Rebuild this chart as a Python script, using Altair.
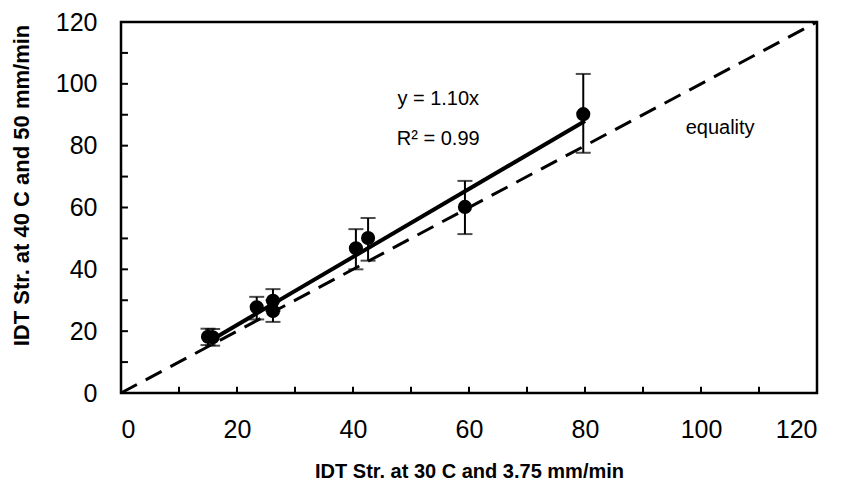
import altair as alt
import pandas as pd

# data
x_vals = [15.0, 15.8, 23.4, 26.2, 26.2, 40.5, 42.6, 59.3, 79.7]
y_vals = [18.2, 18.0, 27.7, 29.8, 26.5, 46.8, 50.1, 60.2, 90.2]
y_low = [15.5, 15.3, 23.8, 26.5, 23.0, 40.0, 42.8, 51.4, 77.7]
y_high = [20.8, 20.7, 31.1, 33.6, 30.0, 53.0, 56.6, 68.6, 103.2]

fit_x = [15.0, 80.0]
fit_y = [16.5, 88.0]
eq_x = [0, 120]
eq_y = [0, 120]

x_ticks = [0, 10, 20, 30, 40, 50, 60, 70, 80, 90, 100, 110, 120]
y_ticks = [0, 10, 20, 30, 40, 50, 60, 70, 80, 90, 100, 110, 120]

labels_text = ["y = 1.10x", "R\u00b2 = 0.99", "equality"]
labels_x = [54.7, 54.7, 103.3]
labels_y = [95.0, 82.3, 85.8]

FONT = "Liberation Sans"

pts = pd.DataFrame({"x": x_vals, "y": y_vals, "lo": y_low, "hi": y_high})
fit = pd.DataFrame({"x": fit_x, "y": fit_y})
eq = pd.DataFrame({"x": eq_x, "y": eq_y})
xt = pd.DataFrame({"v": x_ticks, "a": [0] * len(x_ticks), "b": [2.0] * len(x_ticks)})
yt = pd.DataFrame({"v": y_ticks, "a": [0] * len(y_ticks), "b": [1.2] * len(y_ticks)})
lab = pd.DataFrame({"t": labels_text, "x": labels_x, "y": labels_y})

xs = alt.Scale(domain=[0, 120], nice=False, zero=False)
ys = alt.Scale(domain=[0, 120], nice=False, zero=False)

x_axis = alt.Axis(
    title="IDT Str. at 30 C and 3.75 mm/min",
    values=[0, 20, 40, 60, 80, 100, 120],
    ticks=False, domain=False, grid=False,
    labelFontSize=25, labelFont=FONT, labelColor="black", labelPadding=24,
    titleFontSize=20, titleFont=FONT, titleFontWeight="bold", titleColor="black",
    titlePadding=19,
)
y_axis = alt.Axis(
    title="IDT Str. at 40 C and 50 mm/min",
    values=[0, 20, 40, 60, 80, 100, 120],
    ticks=False, domain=False, grid=False,
    labelFontSize=25, labelFont=FONT, labelColor="black", labelPadding=24,
    titleFontSize=22, titleFont=FONT, titleFontWeight="bold", titleColor="black",
    titlePadding=22, titleY=163,
)

eq_line = alt.Chart(eq).mark_line(color="black", strokeWidth=3, strokeDash=[18, 10]).encode(
    x=alt.X("x:Q", scale=xs, axis=x_axis),
    y=alt.Y("y:Q", scale=ys, axis=y_axis),
)
fit_line = alt.Chart(fit).mark_line(color="black", strokeWidth=4).encode(
    x=alt.X("x:Q", scale=xs), y=alt.Y("y:Q", scale=ys)
)
err = alt.Chart(pts).mark_rule(color="black", strokeWidth=2).encode(
    x=alt.X("x:Q", scale=xs), y=alt.Y("lo:Q", scale=ys), y2="hi:Q"
)
cap_lo = alt.Chart(pts).mark_tick(color="black", thickness=2, size=15, orient="horizontal").encode(
    x=alt.X("x:Q", scale=xs), y=alt.Y("lo:Q", scale=ys)
)
cap_hi = alt.Chart(pts).mark_tick(color="black", thickness=2, size=15, orient="horizontal").encode(
    x=alt.X("x:Q", scale=xs), y=alt.Y("hi:Q", scale=ys)
)
points = alt.Chart(pts).mark_circle(color="black", size=200, opacity=1).encode(
    x=alt.X("x:Q", scale=xs), y=alt.Y("y:Q", scale=ys)
)
xtick = alt.Chart(xt).mark_rule(color="black", strokeWidth=2).encode(
    x=alt.X("v:Q", scale=xs), y=alt.Y("a:Q", scale=ys), y2="b:Q"
)
ytick = alt.Chart(yt).mark_rule(color="black", strokeWidth=2).encode(
    y=alt.Y("v:Q", scale=ys), x=alt.X("a:Q", scale=xs), x2="b:Q"
)
texts = alt.Chart(lab).mark_text(font=FONT, fontSize=20, color="black", align="center", baseline="middle").encode(
    x=alt.X("x:Q", scale=xs), y=alt.Y("y:Q", scale=ys), text="t:N"
)

chart = alt.layer(eq_line, fit_line, err, cap_lo, cap_hi, points, xtick, ytick, texts).properties(
    width=696, height=371,
    autosize=alt.AutoSizeParams(type="none"),
    padding={"left": 121, "top": 22, "right": 25, "bottom": 96},
    background="white",
).configure_view(stroke="black", strokeWidth=2.5)

chart.save("out.html", embed_options={"renderer": "svg", "actions": False})
